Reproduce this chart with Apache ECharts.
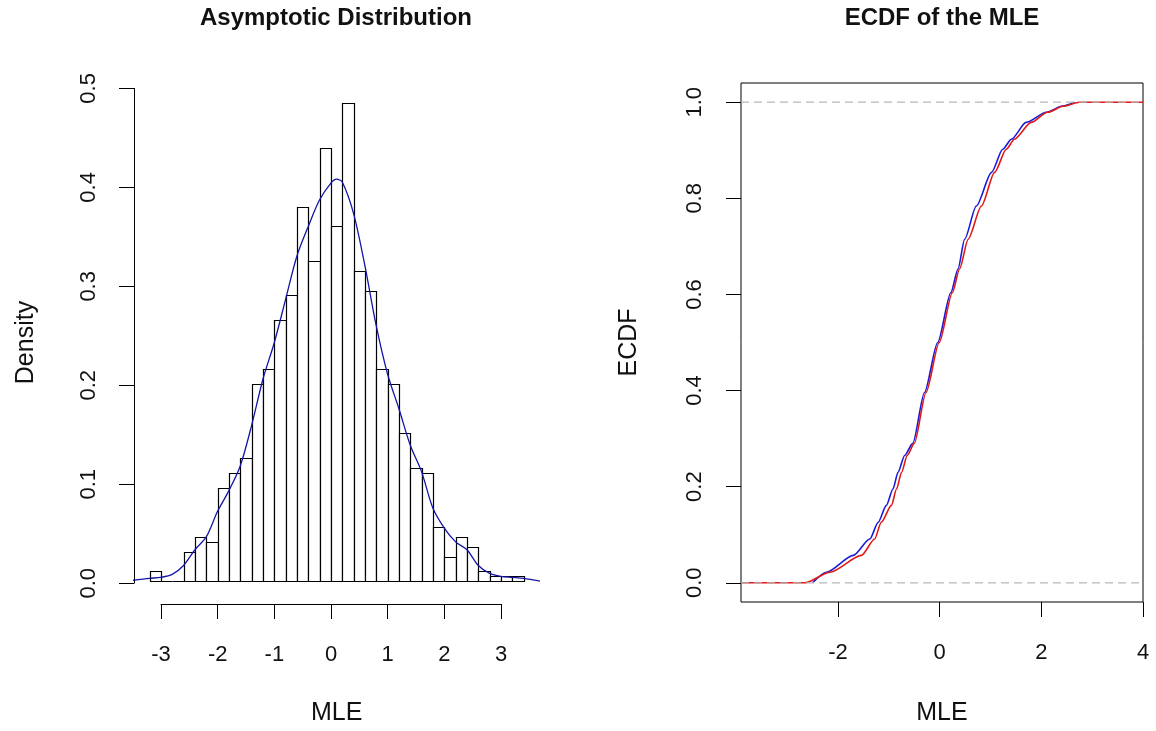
<!DOCTYPE html>
<html>
<head>
<meta charset="utf-8">
<script src="https://cdn.jsdelivr.net/npm/echarts@6/dist/echarts.min.js"></script>
<style>
    html, body { margin: 0; background: #fff; }
    #main { width: 1156px; height: 731px; }
</style>
</head>
<body>
<div id="main"></div>
<script>
// histogram of the MLE (density scale, bins of 0.2)
const histBreaks = [-3.2, -3.0, -2.8, -2.6, -2.4, -2.2, -2.0, -1.8, -1.6, -1.4, -1.2, -1.0, -0.8, -0.6, -0.4, -0.2,
    0, 0.2, 0.4, 0.6, 0.8, 1.0, 1.2, 1.4, 1.6, 1.8, 2.0, 2.2, 2.4, 2.6, 2.8, 3.0, 3.2, 3.4];
const histDensity = [0.01, 0, 0, 0.03, 0.045, 0.04, 0.095, 0.11, 0.125, 0.2, 0.215, 0.265, 0.29, 0.38, 0.325, 0.44,
    0.36, 0.485, 0.315, 0.295, 0.215, 0.2, 0.15, 0.115, 0.11, 0.055, 0.025, 0.045, 0.035, 0.01, 0.005, 0.005, 0.005];

// kernel density curve
const densX = [-3.5, -3.2, -3.0, -2.8, -2.6, -2.4, -2.2, -2.0, -1.8, -1.6, -1.4, -1.2, -1.0, -0.8, -0.6, -0.4, -0.2,
    0, 0.1, 0.2, 0.4, 0.6, 0.8, 1.0, 1.2, 1.4, 1.6, 1.8, 2.0, 2.2, 2.4, 2.6, 2.8, 3.0, 3.2, 3.4, 3.7];
const densY = [0.001, 0.003, 0.004, 0.007, 0.016, 0.032, 0.045, 0.071, 0.092, 0.117, 0.158, 0.205, 0.242, 0.286, 0.330, 0.360, 0.387,
    0.404, 0.408, 0.405, 0.373, 0.320, 0.259, 0.210, 0.175, 0.138, 0.111, 0.074, 0.054, 0.040, 0.032, 0.016, 0.008, 0.005, 0.004, 0.003, 0.0];

// ECDF curves
const ecdfBlueX = [-2.5, -2.23, -1.70, -1.375, -1.21, -1.05, -0.92, -0.82, -0.69, -0.53, -0.30, -0.04, 0.22, 0.36, 0.49, 0.72, 1.02, 1.24, 1.41, 1.70, 2.10, 2.42, 2.65];
const ecdfBlueY = [0, 0.022, 0.057, 0.091, 0.126, 0.161, 0.195, 0.23, 0.265, 0.29, 0.396, 0.50, 0.604, 0.653, 0.715, 0.784, 0.854, 0.902, 0.923, 0.958, 0.979, 0.992, 1.0];
const ecdfRedX = [-2.65, -2.16, -1.54, -1.28, -1.15, -0.95, -0.85, -0.75, -0.64, -0.50, -0.27, -0.01, 0.25, 0.39, 0.56, 0.82, 1.08, 1.31, 1.47, 1.80, 2.12, 2.44, 2.75];
const ecdfRedY = [0, 0.022, 0.057, 0.091, 0.126, 0.161, 0.195, 0.23, 0.265, 0.29, 0.396, 0.50, 0.604, 0.653, 0.715, 0.784, 0.854, 0.902, 0.923, 0.958, 0.979, 0.992, 1.0];
const refLevels = [0, 1];

// tick labels
const histXTicks = [-3, -2, -1, 0, 1, 2, 3];
const ecdfXTicks = [-2, 0, 2, 4];
const ecdfYTicks = [0, 0.2, 0.4, 0.6, 0.8, 1.0];

const RX_MIN = -3.91, RX_MAX = 4;
const FONT = 'Liberation Sans, Arial, sans-serif';
const INK = '#111';

const myChart = echarts.init(document.getElementById('main'));

const tickStyle = {color: '#000', width: 1};
const labelStyle = {color: INK, fontFamily: FONT, fontSize: 22};
const nameStyle = {color: INK, fontFamily: FONT, fontSize: 25};
const fmt1 = v => Number(v).toFixed(1);

const option = {
    animation: false,
    backgroundColor: '#fff',
    title: [
        {text: 'Asymptotic Distribution', left: 336, top: 6, textAlign: 'center', padding: 0,
            textStyle: {fontFamily: FONT, fontSize: 24, fontWeight: 'bold', color: INK}},
        {text: 'ECDF of the MLE', left: 942, top: 6, textAlign: 'center', padding: 0,
            textStyle: {fontFamily: FONT, fontSize: 24, fontWeight: 'bold', color: INK}}
    ],
    grid: [
        {left: 134.6, top: 83, width: 404, height: 521},
        {left: 161, top: 83, width: 340, height: 521},
        {left: 134, top: 88.4, width: 1, height: 494.8},
        {left: 741, top: 83, width: 402, height: 521, show: true, borderColor: '#000', borderWidth: 1}
    ],
    xAxis: [
        {gridIndex: 0, type: 'value', min: -3.464, max: 3.664,
            axisLine: {show: false, onZero: false}, axisTick: {show: false}, axisLabel: {show: false}, splitLine: {show: false},
            name: 'MLE', nameLocation: 'middle', nameGap: 99, nameTextStyle: nameStyle},
        {gridIndex: 1, type: 'value', min: -3, max: 3, interval: 1,
            axisLine: {show: true, onZero: false, lineStyle: tickStyle},
            axisTick: {show: true, length: 15, lineStyle: tickStyle},
            axisLabel: Object.assign({margin: 40, customValues: histXTicks}, labelStyle),
            splitLine: {show: false}},
        {gridIndex: 2, type: 'value', show: false},
        {gridIndex: 3, type: 'value', min: RX_MIN, max: RX_MAX,
            axisLine: {show: false, onZero: false},
            axisTick: {show: true, length: 15, lineStyle: tickStyle, customValues: ecdfXTicks},
            axisLabel: Object.assign({margin: 40, customValues: ecdfXTicks}, labelStyle),
            splitLine: {show: false},
            name: 'MLE', nameLocation: 'middle', nameGap: 99, nameTextStyle: nameStyle}
    ],
    yAxis: [
        {gridIndex: 0, type: 'value', min: -0.021, max: 0.5055,
            axisLine: {show: false, onZero: false}, axisTick: {show: false}, axisLabel: {show: false}, splitLine: {show: false},
            name: 'Density', nameLocation: 'middle', nameGap: 96, nameTextStyle: nameStyle},
        {gridIndex: 1, type: 'value', show: false, min: 0, max: 1},
        {gridIndex: 2, type: 'value', min: 0, max: 0.5, interval: 0.1,
            axisLine: {show: true, onZero: false, lineStyle: tickStyle},
            axisTick: {show: true, length: 15, lineStyle: tickStyle},
            axisLabel: Object.assign({margin: 34, rotate: 90, formatter: fmt1}, labelStyle),
            splitLine: {show: false}},
        {gridIndex: 3, type: 'value', min: -0.04, max: 1.04,
            axisLine: {show: false, onZero: false},
            axisTick: {show: true, length: 15, lineStyle: tickStyle, customValues: ecdfYTicks},
            axisLabel: Object.assign({margin: 35, rotate: 90, formatter: fmt1, customValues: ecdfYTicks}, labelStyle),
            splitLine: {show: false},
            name: 'ECDF', nameLocation: 'middle', nameGap: 99, nameTextStyle: nameStyle}
    ],
    series: [
        {
            type: 'custom',
            xAxisIndex: 0, yAxisIndex: 0,
            data: histDensity.map((d, i) => [histBreaks[i], histBreaks[i + 1], d]),
            encode: {x: [0, 1], y: 2},
            renderItem: function (params, api) {
                const p0 = api.coord([api.value(0), 0]);
                const p1 = api.coord([api.value(1), api.value(2)]);
                const x0 = Math.round(p0[0]) + 0.5, x1 = Math.round(p1[0]) + 0.5;
                const yb = Math.round(p0[1]) + 0.5, yt = Math.round(p1[1]) + 0.5;
                return {
                    type: 'rect',
                    shape: {x: x0, y: yt, width: x1 - x0, height: yb - yt},
                    style: {fill: '#fff', stroke: '#000', lineWidth: 1.2}
                };
            },
            z: 2
        },
        {
            type: 'line',
            xAxisIndex: 0, yAxisIndex: 0,
            data: densX.map((x, i) => [x, densY[i]]),
            showSymbol: false, smooth: 0.3,
            lineStyle: {color: '#1414a8', width: 1.3},
            z: 3
        },
        {
            type: 'line',
            xAxisIndex: 3, yAxisIndex: 3,
            data: ecdfBlueX.map((x, i) => [x, ecdfBlueY[i]]),
            showSymbol: false, smooth: 0.25, smoothMonotone: 'x',
            lineStyle: {color: '#1a1ad6', width: 1.6},
            z: 2
        },
        {
            type: 'line',
            xAxisIndex: 3, yAxisIndex: 3,
            data: [[RX_MIN, 0]].concat(ecdfRedX.map((x, i) => [x, ecdfRedY[i]]), [[RX_MAX, 1]]),
            showSymbol: false, smooth: 0.25, smoothMonotone: 'x',
            lineStyle: {color: '#e01818', width: 1.6},
            z: 3
        }
    ].concat(refLevels.map(lvl => ({
        type: 'line',
        xAxisIndex: 3, yAxisIndex: 3,
        data: [[RX_MIN, lvl], [RX_MAX, lvl]],
        showSymbol: false, silent: true,
        lineStyle: {color: '#b8b8b8', width: 1.3, type: [8, 5]},
        z: 4
    })))
};

option && myChart.setOption(option);
</script>
</body>
</html>
